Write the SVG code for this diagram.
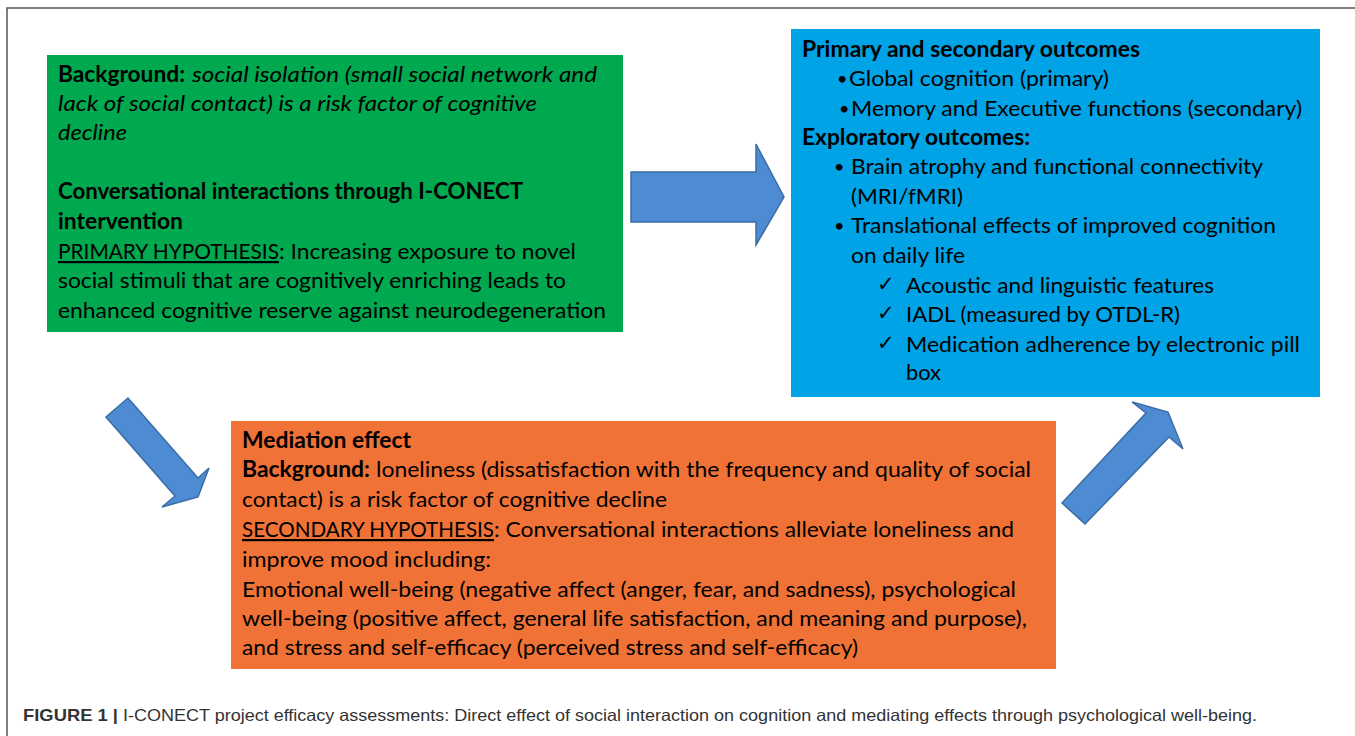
<svg xmlns="http://www.w3.org/2000/svg" width="1355" height="736" viewBox="0 0 1355 736">
  <style>
    .t { font-family: Lato, "Open Sans", "Liberation Sans", sans-serif; font-size: 22px; fill: #000; }
    .b { font-weight: bold; }
    .i { font-style: italic; }
    .u { text-decoration: underline; }
    .bul { font-family: Lato, "Liberation Sans", sans-serif; font-size: 18px; fill: #000; }
    .sym { font-family: "DejaVu Sans", Lato, sans-serif; font-size: 21px; fill: #000; }
    .arrow { fill: #4D8CD2; stroke: #3A6CA6; stroke-width: 1.5; stroke-linejoin: miter; }
    .cap { font-family: "Liberation Sans", Arial, sans-serif; font-size: 16.5px; fill: #333; }
    .frame { fill: none; stroke: #555; stroke-width: 1.5; }
  </style>

  <rect width="1355" height="736" fill="#fff"/>
  <!-- figure frame: top and left rules -->
  <path class="frame" d="M7,736 L7,8 L1355,8"/>

  <!-- background / primary hypothesis -->
  <g id="node-intervention">
    <rect x="47" y="55" width="576" height="277" fill="#00A84F"/>
    <text class="t b" x="58" y="82" textLength="127" lengthAdjust="spacingAndGlyphs">Background:</text>
    <text class="t i" x="192" y="82" textLength="405" lengthAdjust="spacingAndGlyphs">social isolation (small social network and</text>
    <text class="t i" x="58" y="111" textLength="479" lengthAdjust="spacingAndGlyphs">lack of social contact) is a risk factor of cognitive</text>
    <text class="t i" x="58" y="140" textLength="69" lengthAdjust="spacingAndGlyphs">decline</text>
    <text class="t b" x="58" y="199" textLength="465" lengthAdjust="spacingAndGlyphs">Conversational interactions through I-CONECT</text>
    <text class="t b" x="58" y="229" textLength="125" lengthAdjust="spacingAndGlyphs">intervention</text>
    <text class="t u" x="58" y="259" textLength="221" lengthAdjust="spacingAndGlyphs">PRIMARY HYPOTHESIS</text>
    <text class="t" x="279" y="259" textLength="297" lengthAdjust="spacingAndGlyphs">: Increasing exposure to novel</text>
    <text class="t" x="58" y="288" textLength="508" lengthAdjust="spacingAndGlyphs">social stimuli that are cognitively enriching leads to</text>
    <text class="t" x="58" y="318" textLength="548" lengthAdjust="spacingAndGlyphs">enhanced cognitive reserve against neurodegeneration</text>
  </g>

  <!-- outcomes -->
  <g id="node-outcomes">
    <rect x="791" y="29" width="529" height="368" fill="#00A3E6"/>
    <text class="t b" x="802" y="57" textLength="338" lengthAdjust="spacingAndGlyphs">Primary and secondary outcomes</text>
    <text class="bul" x="837" y="85">•</text>
    <text class="t" x="849" y="86" textLength="260" lengthAdjust="spacingAndGlyphs">Global cognition (primary)</text>
    <text class="bul" x="839" y="115">•</text>
    <text class="t" x="851" y="116" textLength="451" lengthAdjust="spacingAndGlyphs">Memory and Executive functions (secondary)</text>
    <text class="t b" x="802" y="145" textLength="228" lengthAdjust="spacingAndGlyphs">Exploratory outcomes:</text>
    <text class="bul" x="834" y="173">•</text>
    <text class="t" x="851" y="174" textLength="412" lengthAdjust="spacingAndGlyphs">Brain atrophy and functional connectivity</text>
    <text class="t" x="851" y="204" textLength="112" lengthAdjust="spacingAndGlyphs">(MRI/fMRI)</text>
    <text class="bul" x="834" y="232">•</text>
    <text class="t" x="851" y="233" textLength="425" lengthAdjust="spacingAndGlyphs">Translational effects of improved cognition</text>
    <text class="t" x="851" y="263" textLength="114" lengthAdjust="spacingAndGlyphs">on daily life</text>
    <text class="sym" x="877" y="291">✓</text>
    <text class="t" x="906" y="293" textLength="308" lengthAdjust="spacingAndGlyphs">Acoustic and linguistic features</text>
    <text class="sym" x="877" y="320">✓</text>
    <text class="t" x="906" y="322" textLength="274" lengthAdjust="spacingAndGlyphs">IADL (measured by OTDL-R)</text>
    <text class="sym" x="877" y="350">✓</text>
    <text class="t" x="906" y="352" textLength="394" lengthAdjust="spacingAndGlyphs">Medication adherence by electronic pill</text>
    <text class="t" x="906" y="380" textLength="35" lengthAdjust="spacingAndGlyphs">box</text>
  </g>

  <!-- mediation effect -->
  <g id="node-mediation">
    <rect x="231" y="421" width="825" height="248" fill="#F07236"/>
    <text class="t b" x="242" y="448" textLength="169" lengthAdjust="spacingAndGlyphs">Mediation effect</text>
    <text class="t b" x="242" y="477" textLength="128" lengthAdjust="spacingAndGlyphs">Background:</text>
    <text class="t" x="376" y="477" textLength="655" lengthAdjust="spacingAndGlyphs">loneliness (dissatisfaction with the frequency and quality of social</text>
    <text class="t" x="242" y="507" textLength="425" lengthAdjust="spacingAndGlyphs">contact) is a risk factor of cognitive decline</text>
    <text class="t u" x="242" y="537" textLength="252" lengthAdjust="spacingAndGlyphs">SECONDARY HYPOTHESIS</text>
    <text class="t" x="494" y="537" textLength="520" lengthAdjust="spacingAndGlyphs">: Conversational interactions alleviate loneliness and</text>
    <text class="t" x="242" y="567" textLength="249" lengthAdjust="spacingAndGlyphs">improve mood including:</text>
    <text class="t" x="242" y="597" textLength="774" lengthAdjust="spacingAndGlyphs">Emotional well-being (negative affect (anger, fear, and sadness), psychological</text>
    <text class="t" x="242" y="626" textLength="785" lengthAdjust="spacingAndGlyphs">well-being (positive affect, general life satisfaction, and meaning and purpose),</text>
    <text class="t" x="242" y="655" textLength="616" lengthAdjust="spacingAndGlyphs">and stress and self-efficacy (perceived stress and self-efficacy)</text>
  </g>

  <!-- block arrows between boxes -->
  <g id="connectors">
    <polygon class="arrow" points="631,172 756,172 756,144 784,197 756,245 756,222 631,222"/>
    <polygon class="arrow" points="106,417 128,398 198,478 209,468 198,497 162,507 175,496"/>
    <polygon class="arrow" points="1062,503 1146,413 1132,402 1168,412 1183,449 1169,437 1085,524"/>
  </g>

  <!-- caption -->
  <text class="cap b" x="23" y="721" textLength="95" lengthAdjust="spacingAndGlyphs">FIGURE 1 |</text>
  <text class="cap" x="123" y="721" textLength="1134" lengthAdjust="spacingAndGlyphs">I-CONECT project efficacy assessments: Direct effect of social interaction on cognition and mediating effects through psychological well-being.</text>
</svg>
